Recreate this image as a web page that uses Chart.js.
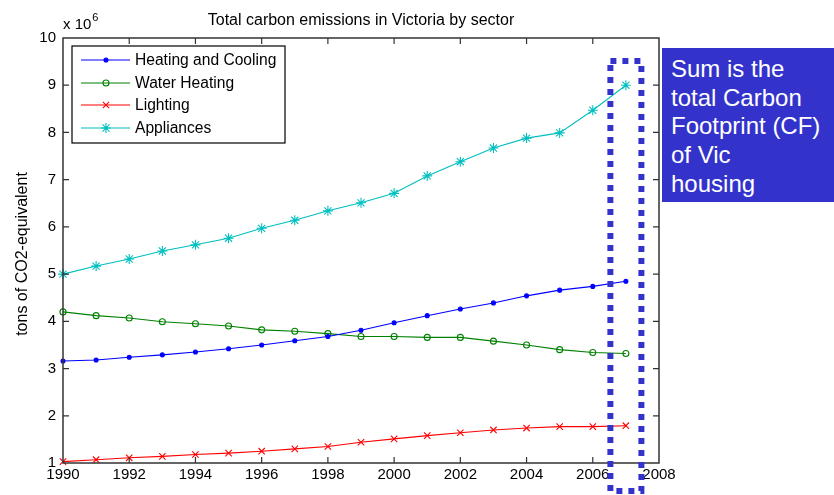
<!DOCTYPE html>
<html lang="en">
<head>
<meta charset="UTF-8">
<title>Total carbon emissions in Victoria by sector</title>
<script src="https://cdn.jsdelivr.net/npm/chart.js"></script>
<style>
    body { margin: 0; background: #fff; }
    .janela { position: relative; width: 834px; height: 495px; overflow: hidden; }
    #nota {
        position: absolute; left: 662px; top: 48px; width: 172px; height: 154px;
        background: #3333cc; color: #fff; box-sizing: border-box; padding: 7px 0 0 9px;
        font: 24px "Liberation Sans", Arial, sans-serif; line-height: 28.7px;
    }
</style>
</head>
<body>
<div class="janela">
    <canvas id="grafico" width="834" height="495"></canvas>
    <div id="nota">Sum is the<br>total Carbon<br>Footprint (CF)<br>of Vic<br>housing</div>
</div>

<script>
    // valores em milhoes de toneladas (eixo "x 10^6")
    const anos = [1990, 1991, 1992, 1993, 1994, 1995, 1996, 1997, 1998, 1999, 2000, 2001, 2002, 2003, 2004, 2005, 2006, 2007];
    const aquecimento = [3.16, 3.18, 3.24, 3.29, 3.35, 3.42, 3.50, 3.59, 3.68, 3.81, 3.97, 4.12, 4.26, 4.39, 4.54, 4.66, 4.74, 4.85];
    const aguaQuente = [4.20, 4.12, 4.07, 3.99, 3.95, 3.90, 3.82, 3.79, 3.74, 3.68, 3.68, 3.66, 3.66, 3.58, 3.50, 3.40, 3.34, 3.32];
    const iluminacao = [1.03, 1.07, 1.11, 1.14, 1.18, 1.21, 1.25, 1.30, 1.35, 1.44, 1.51, 1.58, 1.64, 1.70, 1.74, 1.77, 1.77, 1.79];
    const aparelhos = [5.00, 5.17, 5.32, 5.49, 5.62, 5.76, 5.97, 6.14, 6.34, 6.51, 6.71, 7.08, 7.38, 7.67, 7.88, 7.99, 8.47, 9.00];
    const nomes = ['Heating and Cooling', 'Water Heating', 'Lighting', 'Appliances'];

    const fonte = '"Liberation Sans", Arial, sans-serif';
    const corEixo = '#333333';

    const estilos = [
        { cor: '#0000ff', ponto: 'circle', raio: 2, preenchido: true },
        { cor: '#008000', ponto: 'circle', raio: 3, preenchido: false },
        { cor: '#ff0000', ponto: 'crossRot', raio: 4.5, preenchido: false },
        { cor: '#00bfbf', ponto: 'star', raio: 5, preenchido: false }
    ];

    function serie(valores, i) {
        const e = estilos[i];
        return {
            label: nomes[i],
            data: anos.map((a, k) => ({ x: a, y: valores[k] })),
            borderColor: e.cor,
            backgroundColor: e.preenchido ? e.cor : 'rgba(0,0,0,0)',
            borderWidth: 1.1,
            pointStyle: e.ponto,
            pointRadius: e.raio,
            pointBorderColor: e.cor,
            pointBackgroundColor: e.preenchido ? e.cor : 'rgba(0,0,0,0)',
            pointBorderWidth: 1.1,
            tension: 0,
            clip: false
        };
    }

    // marcador simples para a legenda
    function desenharMarcador(ctx, e, x, y) {
        ctx.save();
        ctx.strokeStyle = e.cor;
        ctx.fillStyle = e.cor;
        ctx.lineWidth = 1.1;
        const r = e.raio;
        ctx.beginPath();
        if (e.ponto === 'circle') {
            ctx.arc(x, y, r, 0, Math.PI * 2);
            if (e.preenchido) ctx.fill();
            ctx.stroke();
        } else {
            if (e.ponto === 'star') {
                ctx.moveTo(x, y - r); ctx.lineTo(x, y + r);
                ctx.moveTo(x - r, y); ctx.lineTo(x + r, y);
            }
            const q = r * Math.SQRT1_2;
            ctx.moveTo(x - q, y - q); ctx.lineTo(x + q, y + q);
            ctx.moveTo(x - q, y + q); ctx.lineTo(x + q, y - q);
            ctx.stroke();
        }
        ctx.restore();
    }

    const moldura = {
        id: 'moldura',
        afterDraw(chart) {
            const { ctx, chartArea: a, scales: { x, y } } = chart;
            ctx.save();

            // caixa dos eixos e ticks para dentro
            ctx.strokeStyle = corEixo;
            ctx.lineWidth = 1.5;
            ctx.strokeRect(a.left, a.top, a.right - a.left, a.bottom - a.top);
            ctx.lineWidth = 1.2;
            ctx.beginPath();
            x.ticks.forEach(t => {
                const px = x.getPixelForValue(t.value);
                if (px <= a.left + 1 || px >= a.right - 1) return;
                ctx.moveTo(px, a.bottom); ctx.lineTo(px, a.bottom - 6);
                ctx.moveTo(px, a.top); ctx.lineTo(px, a.top + 6);
            });
            y.ticks.forEach(t => {
                const py = y.getPixelForValue(t.value);
                if (py <= a.top + 1 || py >= a.bottom - 1) return;
                ctx.moveTo(a.left, py); ctx.lineTo(a.left + 6, py);
                ctx.moveTo(a.right, py); ctx.lineTo(a.right - 6, py);
            });
            ctx.stroke();

            // titulo
            ctx.fillStyle = '#000';
            ctx.font = '16px ' + fonte;
            ctx.textAlign = 'center';
            ctx.textBaseline = 'alphabetic';
            ctx.fillText('Total carbon emissions in Victoria by sector', (a.left + a.right) / 2, 25);

            // multiplicador do eixo y
            ctx.textAlign = 'left';
            ctx.font = '15px ' + fonte;
            ctx.fillText('x 10', a.left, 29);
            const w = ctx.measureText('x 10').width;
            ctx.font = '11px ' + fonte;
            ctx.fillText('6', a.left + w + 1, 21);

            // titulo do eixo y
            ctx.save();
            ctx.translate(23, 254);
            ctx.rotate(-Math.PI / 2);
            ctx.font = '16px ' + fonte;
            ctx.textAlign = 'center';
            ctx.textBaseline = 'middle';
            ctx.fillText('tons of CO2-equivalent', 0, 0);
            ctx.restore();

            // legenda
            const lx = 72, ly = 46, lw = 213, lh = 97;
            ctx.fillStyle = '#fff';
            ctx.fillRect(lx, ly, lw, lh);
            ctx.strokeStyle = '#000';
            ctx.lineWidth = 1.2;
            ctx.strokeRect(lx, ly, lw, lh);
            const linhas = [60, 83, 105, 128];
            ctx.font = '15.6px ' + fonte;
            ctx.textAlign = 'left';
            ctx.textBaseline = 'middle';
            nomes.forEach((n, i) => {
                const e = estilos[i];
                ctx.strokeStyle = e.cor;
                ctx.lineWidth = 1.1;
                ctx.beginPath();
                ctx.moveTo(81, linhas[i]); ctx.lineTo(130, linhas[i]);
                ctx.stroke();
                desenharMarcador(ctx, e, 106, linhas[i]);
                ctx.fillStyle = '#000';
                ctx.fillText(n, 135, linhas[i] + 1);
            });

            // retangulo pontilhado em volta de 2007
            const cx = x.getPixelForValue(2007);
            ctx.strokeStyle = '#3333cc';
            ctx.lineWidth = 6;
            ctx.setLineDash([6, 6]);
            ctx.strokeRect(cx - 15.5, a.top + 23, 31, a.bottom - a.top + 5);
            ctx.restore();
        }
    };

    new Chart(document.getElementById('grafico'), {
        type: 'line',
        data: {
            datasets: [
                serie(aquecimento, 0),
                serie(aguaQuente, 1),
                serie(iluminacao, 2),
                serie(aparelhos, 3)
            ]
        },
        options: {
            responsive: false,
            animation: false,
            layout: { padding: { left: 0, top: 38, right: 175, bottom: 0 } },
            plugins: { legend: { display: false }, tooltip: { enabled: false } },
            scales: {
                x: {
                    type: 'linear', min: 1990, max: 2008,
                    ticks: { stepSize: 2, color: '#000', font: { family: fonte, size: 15 }, padding: 3, callback: v => String(v) },
                    grid: { drawOnChartArea: false, drawTicks: false },
                    border: { display: false },
                    afterFit: s => { s.height = 32; }
                },
                y: {
                    min: 1, max: 10,
                    ticks: { stepSize: 1, color: '#000', font: { family: fonte, size: 15 }, padding: 7 },
                    grid: { drawOnChartArea: false, drawTicks: false },
                    border: { display: false },
                    afterFit: s => { s.width = 63; }
                }
            }
        },
        plugins: [moldura]
    });
</script>
</body>
</html>
